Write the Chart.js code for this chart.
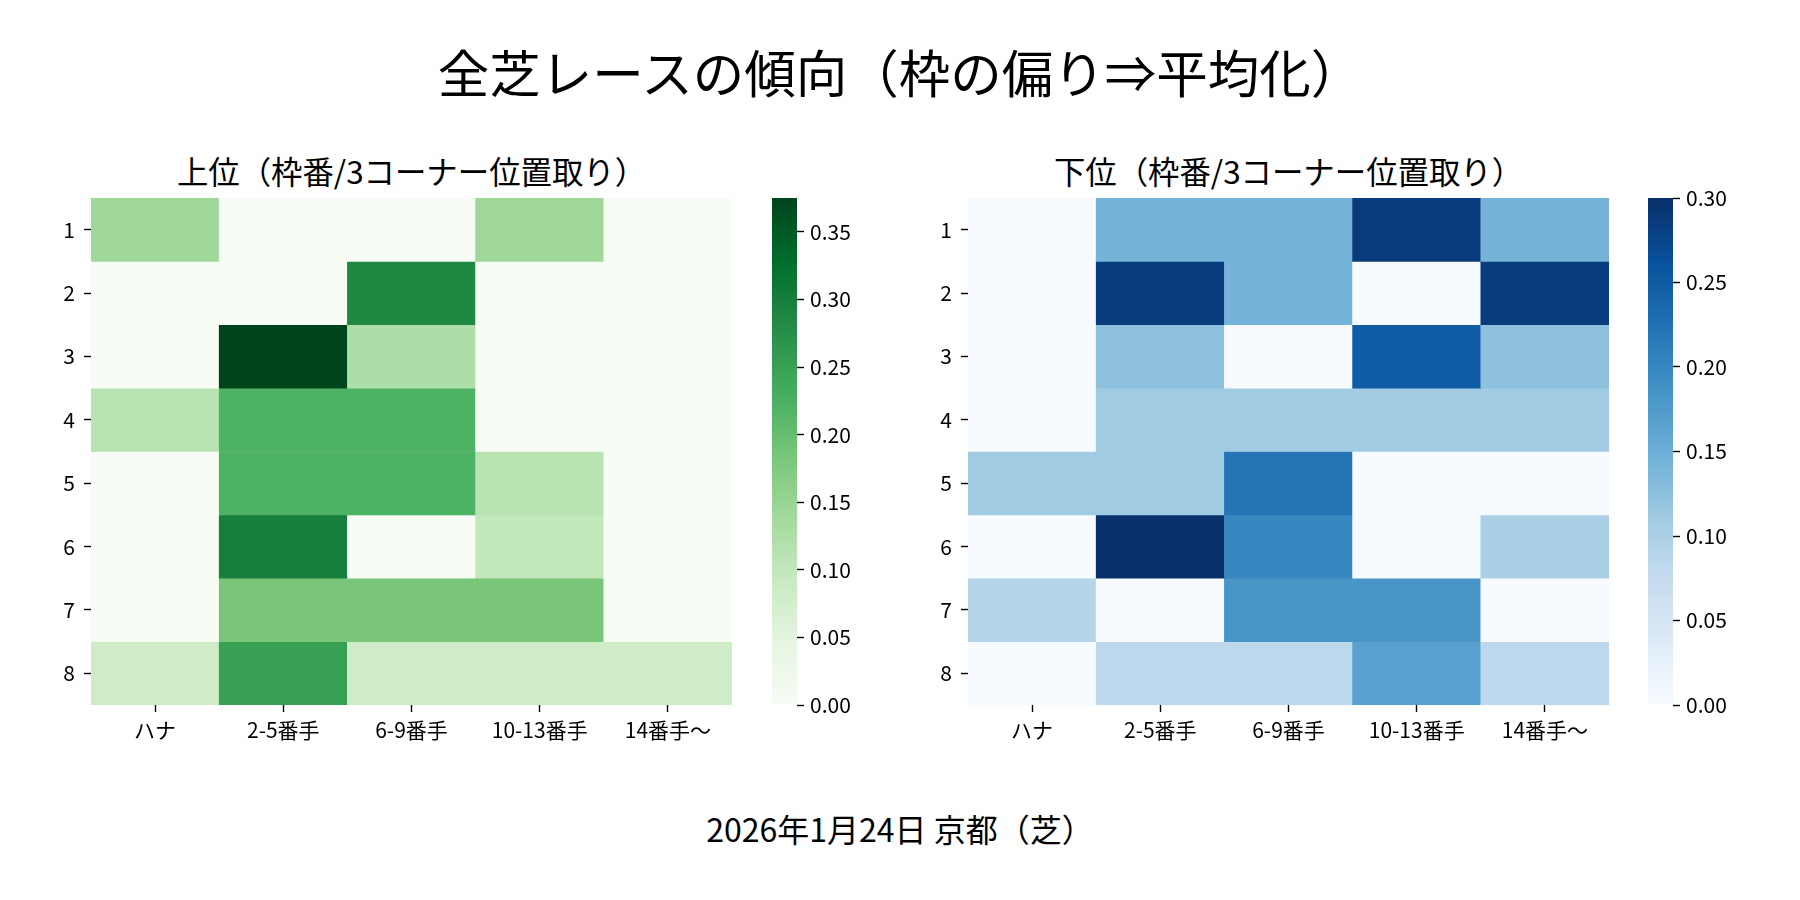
<!DOCTYPE html>
<html>
<head>
<meta charset="utf-8">
<title>全芝レースの傾向</title>
<script src="https://cdn.jsdelivr.net/npm/chart.js@4.4.1/dist/chart.umd.min.js"></script>
<style>
body { margin: 0; background: #fff; }
#wrap { position: relative; width: 1800px; height: 900px; font-family: "Noto Sans CJK JP", sans-serif; color: #000; overflow: hidden; }
.txt { position: absolute; text-align: center; white-space: nowrap; }
canvas { position: absolute; }
</style>
</head>
<body>
<div id="wrap">
<div class="txt" style="left:0;width:1800px;top:41px;height:60px;line-height:60px;font-size:51.5px;">全芝レースの傾向（枠の偏り⇒平均化）</div>
<div class="txt" style="left:91px;width:641px;top:151px;height:40px;line-height:40px;font-size:31.4px;">上位（枠番/3コーナー位置取り）</div>
<div class="txt" style="left:968px;width:641px;top:151px;height:40px;line-height:40px;font-size:31.4px;">下位（枠番/3コーナー位置取り）</div>
<div class="txt" style="left:0;width:1800px;top:808px;height:40px;line-height:40px;font-size:32px;">2026年1月24日 京都（芝）</div>
<canvas id="heatTop" width="760" height="640" style="left:0;top:150px"></canvas>
<canvas id="barTop" width="120" height="640" style="left:760px;top:150px"></canvas>
<canvas id="heatLow" width="760" height="640" style="left:880px;top:150px"></canvas>
<canvas id="barLow" width="160" height="640" style="left:1640px;top:150px"></canvas>
</div>
<script>
// 枠番 (rows) and 3コーナー位置 (columns)
var rowLabels = ['1', '2', '3', '4', '5', '6', '7', '8'];
var colLabels = ['ハナ', '2-5番手', '6-9番手', '10-13番手', '14番手〜'];

// 上位 rates, one array per 枠
var upperRates = [
  [0.143, 0, 0, 0.143, 0],
  [0, 0, 0.286, 0, 0],
  [0, 0.375, 0.125, 0, 0],
  [0.111, 0.222, 0.222, 0, 0],
  [0, 0.222, 0.222, 0.111, 0],
  [0, 0.3, 0, 0.1, 0],
  [0, 0.182, 0.182, 0.182, 0],
  [0.083, 0.25, 0.083, 0.083, 0.083]
];
// 下位 rates
var lowerRates = [
  [0, 0.143, 0.143, 0.286, 0.143],
  [0, 0.286, 0.143, 0, 0.286],
  [0, 0.125, 0, 0.25, 0.125],
  [0, 0.111, 0.111, 0.111, 0.111],
  [0.111, 0.111, 0.222, 0, 0],
  [0, 0.3, 0.2, 0, 0.1],
  [0.091, 0, 0.182, 0.182, 0],
  [0, 0.083, 0.083, 0.167, 0.083]
];
var upperMax = 0.375;
var lowerMax = 0.30;
var upperTicks = [0, 0.05, 0.10, 0.15, 0.20, 0.25, 0.30, 0.35];
var lowerTicks = [0, 0.05, 0.10, 0.15, 0.20, 0.25, 0.30];

var greens = ['#f7fcf5', '#e5f5e0', '#c7e9c0', '#a1d99b', '#74c476', '#41ab5d', '#238b45', '#006d2c', '#00441b'];
var blues = ['#f7fbff', '#deebf7', '#c6dbef', '#9ecae1', '#6baed6', '#4292c6', '#2171b5', '#08519c', '#08306b'];

Chart.defaults.font.family = '"Noto Sans CJK JP", sans-serif';
Chart.defaults.font.size = 21;
Chart.defaults.color = '#000';

function hexRgb(h) {
  return [parseInt(h.substr(1, 2), 16), parseInt(h.substr(3, 2), 16), parseInt(h.substr(5, 2), 16)];
}

function cmap(stops, t) {
  t = Math.min(1, Math.max(0, t));
  var p = t * (stops.length - 1);
  var i = Math.min(Math.floor(p), stops.length - 2);
  var f = p - i;
  var a = hexRgb(stops[i]), b = hexRgb(stops[i + 1]);
  var c = a.map(function (v, k) { return Math.round(v + (b[k] - v) * f); });
  return 'rgb(' + c.join(',') + ')';
}

var tickGrid = { drawOnChartArea: false, drawTicks: true, tickLength: 7, tickColor: '#000', tickWidth: 1.4 };

function heatmap(id, rows, stops, vmax, yWidth, padRight) {
  var datasets = rows.map(function (row, r) {
    return {
      data: row.map(function () { return [r, r + 1]; }),
      backgroundColor: row.map(function (v) { return cmap(stops, v / vmax); }),
      borderWidth: 0,
      grouped: false,
      barPercentage: 1,
      categoryPercentage: 1
    };
  });
  return new Chart(document.getElementById(id), {
    type: 'bar',
    data: { labels: colLabels, datasets: datasets },
    options: {
      responsive: false,
      animation: false,
      events: [],
      layout: { padding: { top: 48, left: 0, right: padRight, bottom: 25 } },
      plugins: { legend: { display: false }, tooltip: { enabled: false } },
      scales: {
        x: {
          grid: Object.assign({ offset: false }, tickGrid),
          border: { display: false },
          ticks: { padding: 5, maxRotation: 0, autoSkip: false },
          afterFit: function (s) { s.height = 60; }
        },
        y: {
          min: 0, max: 8, reverse: true,
          grid: tickGrid,
          border: { display: false },
          afterBuildTicks: function (s) {
            s.ticks = rowLabels.map(function (l, i) { return { value: i + 0.5 }; });
          },
          ticks: { padding: 9, callback: function (v, i) { return rowLabels[i]; } },
          afterFit: function (s) { s.width = yWidth; }
        }
      }
    }
  });
}

function colorbar(id, stops, vmax, ticks, padLeft, axisWidth, padRight) {
  return new Chart(document.getElementById(id), {
    type: 'bar',
    data: {
      labels: [''],
      datasets: [{
        data: [[0, vmax]],
        borderWidth: 0,
        barPercentage: 1,
        categoryPercentage: 1,
        backgroundColor: function (c) {
          var area = c.chart.chartArea;
          if (!area) return stops[0];
          var g = c.chart.ctx.createLinearGradient(0, area.bottom, 0, area.top);
          stops.forEach(function (s, k) { g.addColorStop(k / (stops.length - 1), s); });
          return g;
        }
      }]
    },
    options: {
      responsive: false,
      animation: false,
      events: [],
      layout: { padding: { top: 48, left: padLeft, right: padRight, bottom: 85 } },
      plugins: { legend: { display: false }, tooltip: { enabled: false } },
      scales: {
        x: { display: false },
        y: {
          position: 'right',
          min: 0, max: vmax,
          grid: tickGrid,
          border: { display: false },
          afterBuildTicks: function (s) {
            s.ticks = ticks.map(function (v) { return { value: v }; });
          },
          ticks: { padding: 6, callback: function (v) { return Number(v).toFixed(2); } },
          afterFit: function (s) { s.width = axisWidth; }
        }
      }
    }
  });
}

heatmap('heatTop', upperRates, greens, upperMax, 91, 28);
colorbar('barTop', greens, upperMax, upperTicks, 12, 80, 3);
heatmap('heatLow', lowerRates, blues, lowerMax, 88, 31);
colorbar('barLow', blues, lowerMax, lowerTicks, 8, 100, 27);
</script>
</body>
</html>
